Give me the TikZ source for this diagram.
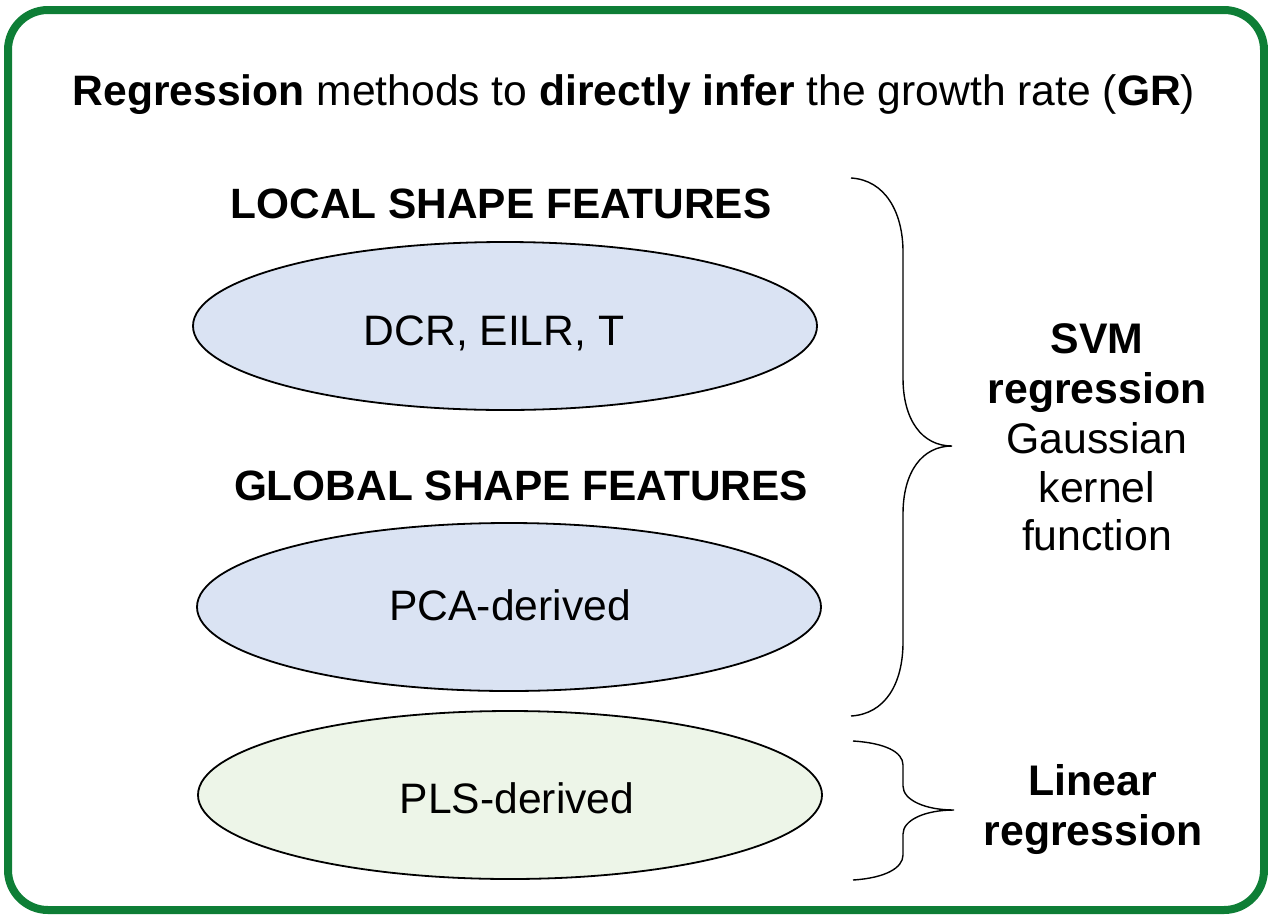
\documentclass[tikz,border=0pt]{standalone}
\usepackage{fontspec}
\setmainfont{Liberation Sans}
\usetikzlibrary{shapes.geometric}
\definecolor{framegreen}{RGB}{14,126,54}
\definecolor{ellblue}{RGB}{218,227,243}
\definecolor{ellgreen}{RGB}{237,245,232}
\tikzset{
  frame/.style={draw=framegreen, line width=4pt, rounded corners=20pt},
  feat/.style={ellipse, draw=black, line width=0.9pt, minimum width=312pt, minimum height=84pt, inner sep=0pt},
  hdr/.style={anchor=base, font=\fontsize{21.2}{25}\selectfont\bfseries, inner sep=0pt},
  lbl/.style={anchor=base, font=\fontsize{21.3}{25}\selectfont, inner sep=0pt},
  rb/.style={anchor=base, font=\fontsize{21.4}{25}\selectfont\bfseries, inner sep=0pt},
  rn/.style={anchor=base, font=\fontsize{21.4}{25}\selectfont, inner sep=0pt},
  brace/.style={draw=black, line width=0.7pt},
}
\begin{document}
\begin{tikzpicture}[x=0.5pt,y=-0.5pt]
\useasboundingbox (0,0) rectangle (1268,916);
\draw[frame] (8,10) rectangle (1264,910);

\node[lbl] (title) at (634,105) {\textbf{Regression} methods to \textbf{directly infer} the growth rate (\textbf{GR})};

\node[hdr] (local) at (501,218) {LOCAL SHAPE FEATURES};
\node[hdr] (global) at (521,500) {GLOBAL SHAPE FEATURES};

\node[feat, fill=ellblue] (e1) at (505,326) {};
\node[lbl] (t1) at (494,345) {DCR, EILR, T};
\node[feat, fill=ellblue] (e2) at (509,607) {};
\node[lbl] (t2) at (510,620) {PCA-derived};
\node[feat, fill=ellgreen] (e3) at (510,795) {};
\node[lbl] (t3) at (517,813) {PLS-derived};

% big brace
\coordinate (b1t) at (851,178);
\coordinate (b1tip) at (952,446);
\coordinate (b1b) at (851,716);
\draw[brace] (b1t) .. controls (885,180) and (903,212) .. (903,252)
  -- (903,378) .. controls (903,420) and (922,446) .. (b1tip)
  .. controls (922,446) and (903,472) .. (903,514)
  -- (903,642) .. controls (903,684) and (885,714) .. (b1b);

% small brace
\coordinate (b2t) at (853,741);
\coordinate (b2tip) at (954,810);
\coordinate (b2b) at (853,880);
\draw[brace] (b2t) .. controls (885,743) and (903,752) .. (903,765)
  -- (903,786) .. controls (903,800) and (925,810) .. (b2tip)
  .. controls (925,810) and (903,820) .. (903,834)
  -- (903,855) .. controls (903,868) and (885,878) .. (b2b);

\node[rb] (s1) at (1097,353) {SVM};
\node[rb] (s2) at (1097,403) {regression};
\node[rn] (s3) at (1097,453) {Gaussian};
\node[rn] (s4) at (1097,502) {kernel};
\node[rn] (s5) at (1097,550) {function};

\node[rb] (l1) at (1093,795) {Linear};
\node[rb] (l2) at (1093,845) {regression};
\end{tikzpicture}
\end{document}
